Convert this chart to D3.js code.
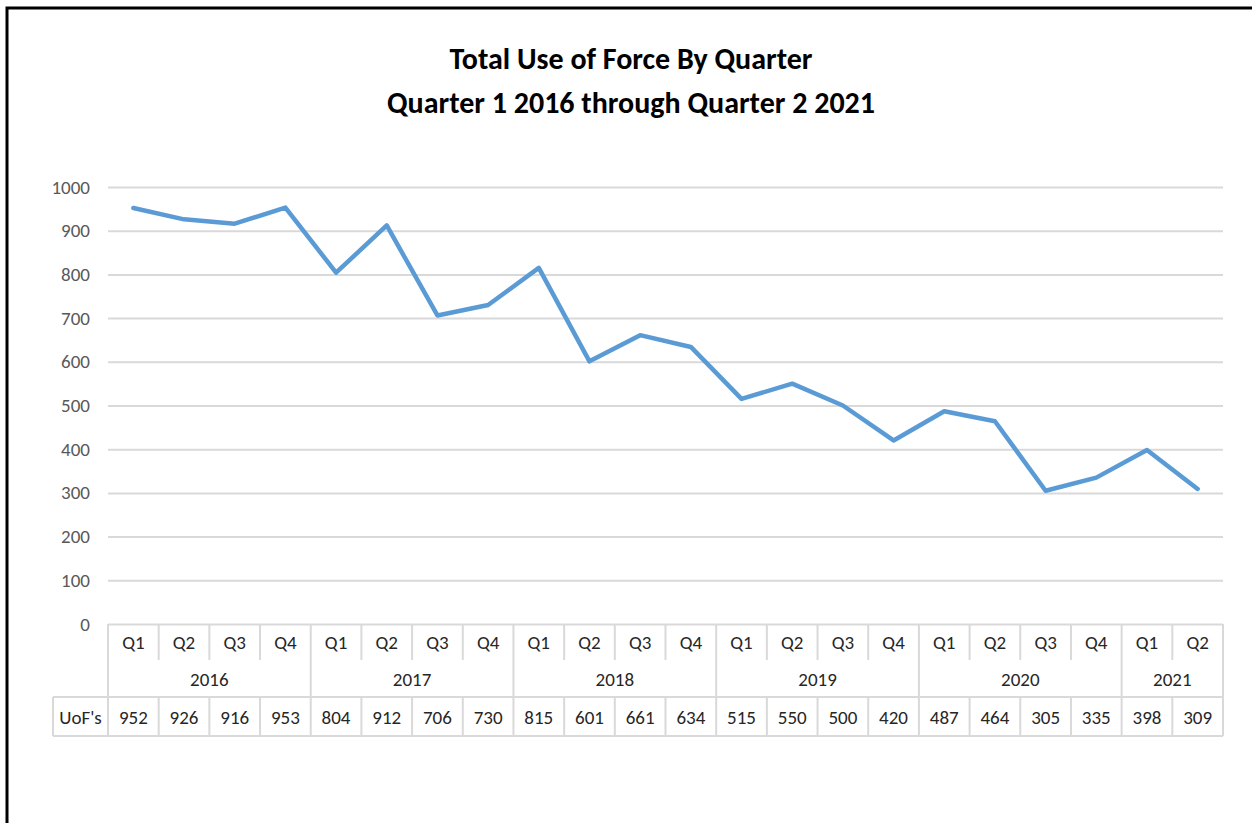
<!DOCTYPE html>
<html>
<head>
<meta charset="utf-8">
<script src="https://cdn.jsdelivr.net/npm/d3@7"></script>
<style>
  body { margin: 0; background: #fff; }
  text { font-family: Calibri, Carlito, Lato, "Open Sans", sans-serif; }
</style>
</head>
<body>
<svg class="canvas" width="1252" height="823"></svg>
<script>
// --- Data ---
var years = ["2016", "2017", "2018", "2019", "2020", "2021"];
var quarters = ["Q1", "Q2", "Q3", "Q4", "Q1", "Q2", "Q3", "Q4", "Q1", "Q2", "Q3", "Q4",
  "Q1", "Q2", "Q3", "Q4", "Q1", "Q2", "Q3", "Q4", "Q1", "Q2"];
var quarterYears = ["2016", "2016", "2016", "2016", "2017", "2017", "2017", "2017",
  "2018", "2018", "2018", "2018", "2019", "2019", "2019", "2019",
  "2020", "2020", "2020", "2020", "2021", "2021"];
var uofs = [952, 926, 916, 953, 804, 912, 706, 730, 815, 601, 661, 634,
  515, 550, 500, 420, 487, 464, 305, 335, 398, 309];
var yTicks = [0, 100, 200, 300, 400, 500, 600, 700, 800, 900, 1000];

// --- Layout ---
var plotLeft = 108, plotRight = 1223, plotTop = 187, plotBottom = 624;
var rowQ = 660, rowY = 697, rowU = 736, tableLeft = 53;
var gridColor = "#d9d9d9";
var textSize = 19;

var svg = d3.select(".canvas");

// frame
svg.append("path")
  .attr("d", "M7,823 V8 H1252")
  .attr("fill", "none")
  .attr("stroke", "#000")
  .attr("stroke-width", 3);

// title
svg.append("text")
  .attr("x", 631).attr("y", 69)
  .attr("text-anchor", "middle")
  .attr("font-size", 30).attr("font-weight", "bold")
  .attr("fill", "#000")
  .text("Total Use of Force By Quarter");
svg.append("text")
  .attr("x", 631).attr("y", 113)
  .attr("text-anchor", "middle")
  .attr("font-size", 30).attr("font-weight", "bold")
  .attr("fill", "#000")
  .text("Quarter 1 2016 through Quarter 2 2021");

var x = d3.scaleBand()
  .domain(d3.range(uofs.length))
  .range([plotLeft, plotRight]);
var y = d3.scaleLinear()
  .domain([0, 1000])
  .range([plotBottom, plotTop]);

// gridlines + y labels
var yAxis = d3.axisLeft(y)
  .tickValues(yTicks)
  .tickFormat(d3.format("d"))
  .tickSize(-(plotRight - plotLeft))
  .tickPadding(18);
var gy = svg.append("g")
  .attr("transform", "translate(" + plotLeft + ",0)")
  .call(yAxis);
gy.select(".domain").remove();
gy.selectAll(".tick line")
  .attr("stroke", gridColor)
  .attr("stroke-width", 2);
gy.selectAll(".tick text")
  .attr("font-size", textSize)
  .attr("fill", "#595959")
  .attr("font-family", "Calibri, Carlito, Lato, 'Open Sans', sans-serif");

// --- Data table under the axis ---
var table = svg.append("g").attr("class", "table");
var bw = x.bandwidth();

// quarter dividers (upper row only)
table.selectAll("line.qdiv")
  .data(d3.range(1, uofs.length).filter(function(i) { return quarterYears[i] == quarterYears[i - 1]; }))
  .enter().append("line")
  .attr("x1", function(i) { return x(i); })
  .attr("x2", function(i) { return x(i); })
  .attr("y1", plotBottom).attr("y2", rowQ);

// year dividers (full height of the two header rows)
var yearStarts = years.map(function(yr) { return quarterYears.indexOf(yr); });
table.selectAll("line.ydiv")
  .data(yearStarts.concat([uofs.length]))
  .enter().append("line")
  .attr("x1", function(i) { return i < uofs.length ? x(i) : plotRight; })
  .attr("x2", function(i) { return i < uofs.length ? x(i) : plotRight; })
  .attr("y1", plotBottom).attr("y2", rowY);

// value row cells
table.selectAll("line.udiv")
  .data(d3.range(uofs.length + 1))
  .enter().append("line")
  .attr("x1", function(i) { return i < uofs.length ? x(i) : plotRight; })
  .attr("x2", function(i) { return i < uofs.length ? x(i) : plotRight; })
  .attr("y1", rowY).attr("y2", rowU);
table.append("line")
  .attr("x1", tableLeft).attr("x2", tableLeft)
  .attr("y1", rowY).attr("y2", rowU);
table.append("line")
  .attr("x1", tableLeft).attr("x2", plotRight)
  .attr("y1", rowY).attr("y2", rowY);
table.append("line")
  .attr("x1", tableLeft).attr("x2", plotRight)
  .attr("y1", rowU).attr("y2", rowU);

table.selectAll("line")
  .attr("stroke", gridColor)
  .attr("stroke-width", 2);

// quarter labels
table.selectAll("text.q")
  .data(quarters)
  .enter().append("text")
  .attr("class", "q")
  .attr("x", function(d, i) { return x(i) + bw / 2; })
  .attr("y", 649)
  .attr("text-anchor", "middle")
  .attr("font-size", textSize)
  .attr("fill", "#262626")
  .text(function(d) { return d; });

// year labels
table.selectAll("text.yr")
  .data(years)
  .enter().append("text")
  .attr("class", "yr")
  .attr("x", function(yr) {
    var idx = quarterYears.map(function(q, i) { return q == yr ? i : -1; }).filter(function(i) { return i >= 0; });
    return (x(idx[0]) + x(idx[idx.length - 1]) + bw) / 2;
  })
  .attr("y", 686)
  .attr("text-anchor", "middle")
  .attr("font-size", textSize)
  .attr("fill", "#262626")
  .text(function(d) { return d; });

// values
table.selectAll("text.v")
  .data(uofs)
  .enter().append("text")
  .attr("class", "v")
  .attr("x", function(d, i) { return x(i) + bw / 2; })
  .attr("y", 724)
  .attr("text-anchor", "middle")
  .attr("font-size", textSize)
  .attr("fill", "#262626")
  .text(function(d) { return d; });
table.append("text")
  .attr("x", (tableLeft + plotLeft) / 2)
  .attr("y", 724)
  .attr("text-anchor", "middle")
  .attr("font-size", textSize)
  .attr("fill", "#262626")
  .text("UoF's");

// --- Line ---
var line = d3.line()
  .x(function(d, i) { return x(i) + bw / 2; })
  .y(function(d) { return y(d); });

svg.append("path")
  .datum(uofs)
  .attr("d", line)
  .attr("fill", "none")
  .attr("stroke", "#5b9bd5")
  .attr("stroke-width", 4.5)
  .attr("stroke-linejoin", "round")
  .attr("stroke-linecap", "round");
</script>
</body>
</html>
